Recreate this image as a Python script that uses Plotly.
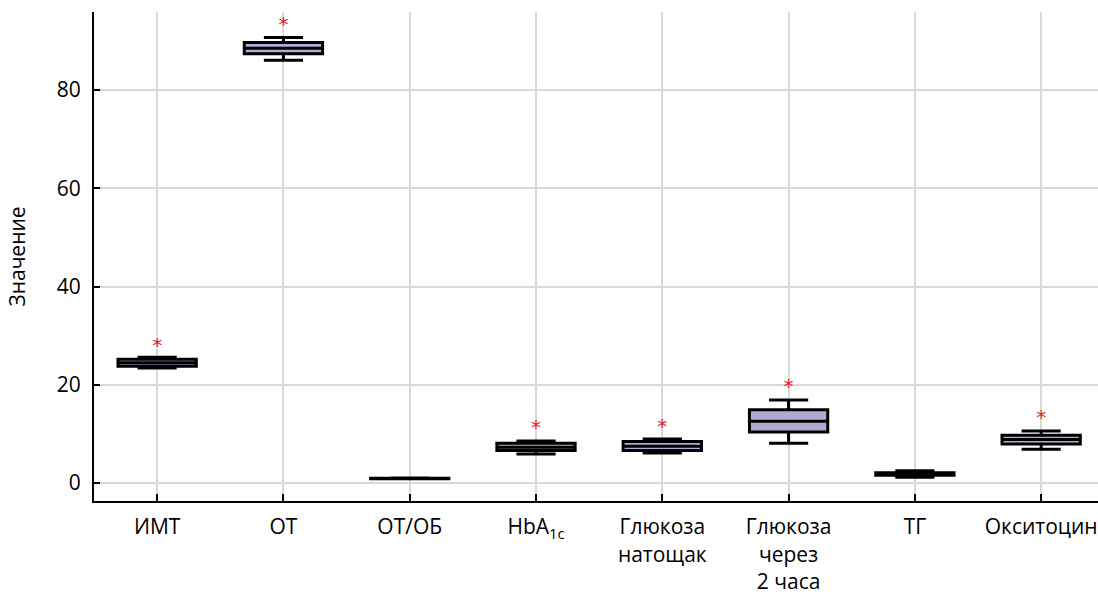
import plotly.graph_objects as go

categories = ["ИМТ", "ОТ", "ОТ/ОБ", "HbA<sub>1c</sub>", "Глюкоза<br>натощак",
              "Глюкоза<br>через<br>2 часа", "ТГ", "Окситоцин"]
q1 = [23.8, 87.4, 0.88, 6.6, 6.6, 10.4, 1.6, 7.95]
median = [24.5, 88.5, 0.93, 7.3, 7.5, 12.6, 1.85, 8.85]
q3 = [25.2, 89.7, 0.98, 8.1, 8.45, 14.9, 2.1, 9.75]
lower = [23.4, 86.1, 0.85, 5.9, 6.1, 8.1, 1.2, 6.9]
upper = [25.6, 90.7, 1.02, 8.55, 8.95, 16.9, 2.5, 10.6]
star_cats = ["ИМТ", "ОТ", "HbA<sub>1c</sub>", "Глюкоза<br>натощак",
             "Глюкоза<br>через<br>2 часа", "Окситоцин"]
star_y = [27.6, 93.0, 10.9, 11.3, 19.4, 13.1]

fig = go.Figure()
fig.add_trace(go.Box(
    x=categories, q1=q1, median=median, q3=q3,
    lowerfence=lower, upperfence=upper,
    fillcolor="#b3aad4", line=dict(color="black", width=3),
    width=0.62, whiskerwidth=0.5, boxpoints=False, showlegend=False,
    hoverinfo="skip",
))
fig.add_trace(go.Scatter(
    x=star_cats, y=star_y, mode="text", text=["*"] * len(star_y),
    textfont=dict(color="#e0201f", size=20, family="DejaVu Sans"),
    textposition="middle center", showlegend=False, hoverinfo="skip",
))

font = "Open Sans"
fig.update_layout(
    width=1098, height=594,
    margin=dict(l=94, r=0, t=12, b=93),
    plot_bgcolor="white", paper_bgcolor="white",
    font=dict(family=font, size=21, color="black"),
)
fig.update_xaxes(
    type="category", categoryorder="array", categoryarray=categories,
    range=[-0.5, 7.45],
    showgrid=True, gridcolor="#d9d9d9", gridwidth=2,
    showline=True, linecolor="black", linewidth=2,
    ticks="inside", ticklen=7, tickwidth=2, tickcolor="black",
    tickfont=dict(size=21), zeroline=False, ticklabelstandoff=6,
)
fig.update_yaxes(
    range=[-3.66, 95.9], tickvals=[0, 20, 40, 60, 80],
    showgrid=True, gridcolor="#d9d9d9", gridwidth=2,
    showline=True, linecolor="black", linewidth=2,
    ticks="inside", ticklen=6, tickwidth=2, tickcolor="black",
    tickfont=dict(size=21), zeroline=False, ticklabelstandoff=7,
    title=dict(text="Значение", font=dict(size=21), standoff=25),
)
fig.write_html("out.html")
